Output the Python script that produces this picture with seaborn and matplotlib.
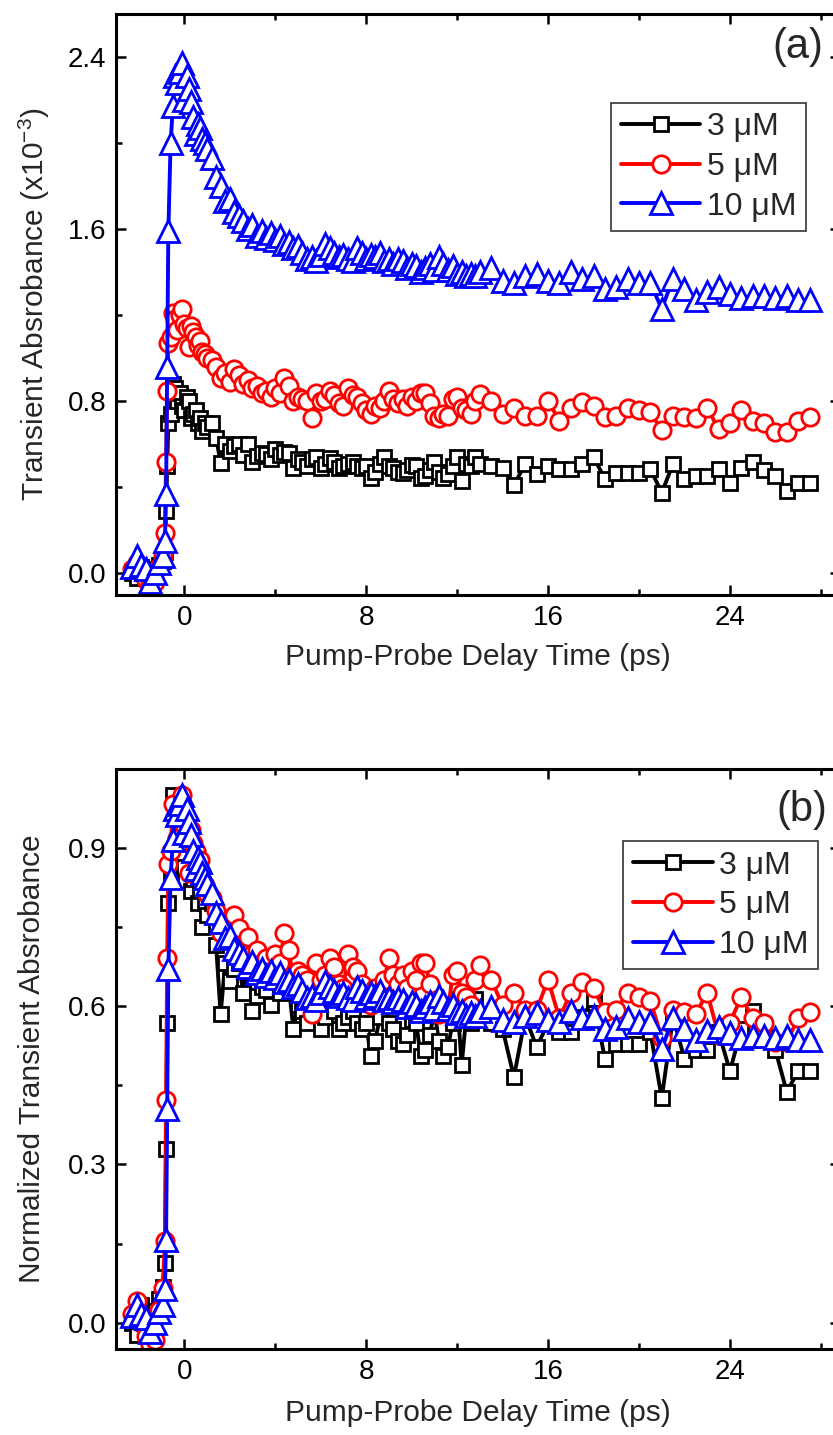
import matplotlib
matplotlib.use("Agg")
import pandas as pd
import seaborn as sns
import matplotlib.pyplot as plt
from matplotlib.ticker import MultipleLocator

# pump-probe delay (ps), shared by the three concentrations
delay = [-2.3, -2.1, -1.9, -1.7, -1.5, -1.3, -1.1, -0.95,
         -0.85, -0.8, -0.75, -0.7, -0.6, -0.5, -0.4, -0.3, -0.2, -0.1,
         0.0, 0.1, 0.2, 0.3, 0.4, 0.5, 0.6, 0.7, 0.8, 0.9, 1.0,
         1.2, 1.4, 1.6, 1.8, 2.0, 2.2, 2.4, 2.6, 2.8, 3.0,
         3.2, 3.4, 3.6, 3.8, 4.0, 4.2, 4.4, 4.6, 4.8, 5.0,
         5.2, 5.4, 5.6, 5.8, 6.0, 6.2, 6.4, 6.6, 6.8, 7.0,
         7.2, 7.4, 7.6, 7.8, 8.0, 8.2, 8.4, 8.6, 8.8, 9.0,
         9.2, 9.4, 9.6, 9.8, 10.0, 10.2, 10.4, 10.6, 10.8, 11.0,
         11.2, 11.4, 11.6, 11.8, 12.0, 12.2, 12.4, 12.6, 12.8, 13.0,
         13.5, 14.0, 14.5, 15.0, 15.5, 16.0, 16.5, 17.0, 17.5, 18.0, 18.5, 19.0, 19.5, 20.0,
         20.5, 21.0, 21.5, 22.0, 22.5, 23.0, 23.5, 24.0, 24.5, 25.0, 25.5, 26.0, 26.5, 27.0, 27.5]

# transient absorbance (x1e-3)
abs_3uM = [0.00, -0.02, 0.03, 0.01, -0.03, 0.02, 0.04, 0.06,
           0.10, 0.29, 0.50, 0.70, 0.74, 0.88, 0.86, 0.80, 0.84, 0.78,
           0.76, 0.82, 0.80, 0.72, 0.74, 0.76, 0.70, 0.72, 0.66, 0.70, 0.68,
           0.70, 0.63, 0.515, 0.60, 0.57, 0.59, 0.60, 0.55, 0.60, 0.52,
           0.545, 0.56, 0.555, 0.53, 0.58, 0.55, 0.565, 0.56, 0.49, 0.53,
           0.52, 0.50, 0.53, 0.54, 0.49, 0.51, 0.535, 0.52, 0.49, 0.50,
           0.51, 0.52, 0.50, 0.49, 0.50, 0.445, 0.47, 0.51, 0.54, 0.50,
           0.49, 0.47, 0.465, 0.48, 0.505, 0.50, 0.445, 0.455, 0.48, 0.52,
           0.47, 0.445, 0.46, 0.50, 0.54, 0.43, 0.51, 0.50, 0.54, 0.51,
           0.50, 0.49, 0.41, 0.51, 0.46, 0.50, 0.485, 0.485, 0.51, 0.54, 0.44, 0.465, 0.465, 0.465,
           0.485, 0.375, 0.51, 0.44, 0.455, 0.455, 0.485, 0.42, 0.49, 0.52, 0.48, 0.455, 0.385, 0.42, 0.42]

abs_5uM = [0.02, 0.05, 0.00, -0.03, -0.05, -0.04, 0.03, 0.08,
           0.19, 0.52, 0.85, 1.07, 1.10, 1.21, 1.18, 1.13, 1.20, 1.23,
           1.16, 1.14, 1.05, 1.15, 1.12, 1.10, 1.06, 1.08, 1.03, 1.02, 1.00,
           0.99, 0.96, 0.91, 0.93, 0.89, 0.95, 0.92, 0.88, 0.90, 0.86,
           0.87, 0.84, 0.85, 0.82, 0.86, 0.84, 0.91, 0.87, 0.80, 0.82,
           0.81, 0.80, 0.72, 0.84, 0.80, 0.81, 0.85, 0.83, 0.79, 0.78,
           0.86, 0.83, 0.82, 0.79, 0.76, 0.74, 0.78, 0.77, 0.80, 0.85,
           0.81, 0.79, 0.81, 0.78, 0.82, 0.80, 0.84, 0.84, 0.79, 0.73,
           0.72, 0.74, 0.73, 0.81, 0.82, 0.77, 0.76, 0.74, 0.80, 0.835,
           0.80, 0.74, 0.77, 0.73, 0.73, 0.80, 0.71, 0.77, 0.795, 0.78, 0.725, 0.73, 0.77, 0.76,
           0.75, 0.665, 0.73, 0.725, 0.72, 0.77, 0.67, 0.70, 0.76, 0.71, 0.70, 0.655, 0.655, 0.71, 0.725]

abs_10uM = [0.03, 0.08, 0.04, 0.02, -0.04, 0.00, 0.05, 0.08,
            0.15, 0.37, 0.96, 1.59, 2.00, 2.17, 2.31, 2.28, 2.33, 2.37,
            2.20, 2.31, 2.25, 2.19, 2.12, 2.04, 2.09, 2.07, 2.02, 2.00, 1.97,
            1.93, 1.84, 1.80, 1.73, 1.74, 1.68, 1.66, 1.64, 1.60, 1.62,
            1.57, 1.59, 1.56, 1.58, 1.55, 1.57, 1.53, 1.54, 1.51, 1.52,
            1.49, 1.46, 1.47, 1.45, 1.48, 1.53, 1.51, 1.49, 1.47, 1.48,
            1.46, 1.45, 1.51, 1.49, 1.46, 1.48, 1.47, 1.49, 1.45, 1.46,
            1.44, 1.46, 1.45, 1.42, 1.44, 1.43, 1.40, 1.42, 1.44, 1.41,
            1.47, 1.44, 1.41, 1.43, 1.39, 1.40, 1.38, 1.39, 1.38, 1.40,
            1.42, 1.36, 1.35, 1.38, 1.39, 1.36, 1.35, 1.40, 1.37, 1.38, 1.32, 1.33, 1.37, 1.35,
            1.35, 1.23, 1.37, 1.32, 1.27, 1.31, 1.33, 1.30, 1.28, 1.29, 1.29, 1.28, 1.29, 1.27, 1.27]

conc_labels = ['3 μM', '5 μM', '10 μM']
colors = ['#000000', '#ff0000', '#0000ff']
markers = ['s', 'o', '^']
msizes = [10.5, 12.5, 16.5]

sns.set_style("ticks")
plt.rcParams['font.family'] = ['Liberation Sans', 'DejaVu Sans']
plt.rcParams['mathtext.fontset'] = 'custom'
plt.rcParams['mathtext.rm'] = 'Liberation Sans'

df = pd.DataFrame({'delay': delay, '3 μM': abs_3uM, '5 μM': abs_5uM, '10 μM': abs_10uM})
dfl = df.melt(id_vars='delay', var_name='conc', value_name='absorb')
# panel (b): each trace divided by its own peak
dfl['norm'] = dfl.absorb / dfl.groupby('conc').absorb.transform('max')

fig = plt.figure(figsize=(8.33, 14.35), dpi=100)
ax_a = fig.add_axes([0.1393, 0.5854, 0.8691, 0.4049])
ax_b = fig.add_axes([0.1393, 0.0599, 0.8691, 0.4042])

panels = [
    (ax_a, 'absorb', (-0.1, 2.6), 0.8, 0.4, 'Transient Absrobance (x10$^{\\mathregular{-3}}$)',
     (0.953, 0.847), '(a)', (0.977, 0.943), -0.088, -0.082),
    (ax_b, 'norm', (-0.05, 1.05), 0.3, 0.15, 'Normalized Transient Absrobance',
     (0.970, 0.876), '(b)', (0.982, 0.929), -0.097, -0.086),
]

for ax, col, ylim, ymaj, ymin, ylab, leg_xy, tag, tag_xy, ylab_x, xlab_y in panels:
    for conc, c, m, ms in zip(conc_labels, colors, markers, msizes):
        sns.lineplot(data=dfl[dfl.conc == conc], x='delay', y=col, ax=ax, estimator=None,
                     color=c, marker=m, markersize=ms, markerfacecolor='white',
                     markeredgecolor=c, markeredgewidth=2.0, linewidth=2.8, label=conc)

    ax.set_xlim(-3, 28.84)
    ax.set_ylim(*ylim)
    ax.xaxis.set_major_locator(MultipleLocator(8))
    ax.xaxis.set_minor_locator(MultipleLocator(4))
    ax.yaxis.set_major_locator(MultipleLocator(ymaj))
    ax.yaxis.set_minor_locator(MultipleLocator(ymin))
    ax.tick_params(which='both', direction='in', top=True, right=True, width=1.8,
                   labelsize=20, pad=7, colors='black')
    ax.tick_params(which='major', length=7.5)
    ax.tick_params(which='minor', length=4.5)
    for s in ax.spines.values():
        s.set_linewidth(2.2)
        s.set_color('black')

    ax.set_xlabel('Pump-Probe Delay Time (ps)', fontsize=21.5)
    ax.set_ylabel(ylab, fontsize=21.5)
    ax.yaxis.set_label_coords(ylab_x, 0.5)
    ax.xaxis.set_label_coords(0.5, xlab_y)

    leg = ax.legend(loc='upper right', bbox_to_anchor=leg_xy, borderaxespad=0, fontsize=23,
                    frameon=True, fancybox=False, edgecolor='#333333', framealpha=1,
                    borderpad=0.3, labelspacing=0.3, handlelength=2.5, handletextpad=0.2)
    leg.get_frame().set_linewidth(1.2)

    ax.text(tag_xy[0], tag_xy[1], tag, transform=ax.transAxes, ha='right', va='center', fontsize=30)

plt.savefig('out.png', dpi=100)
